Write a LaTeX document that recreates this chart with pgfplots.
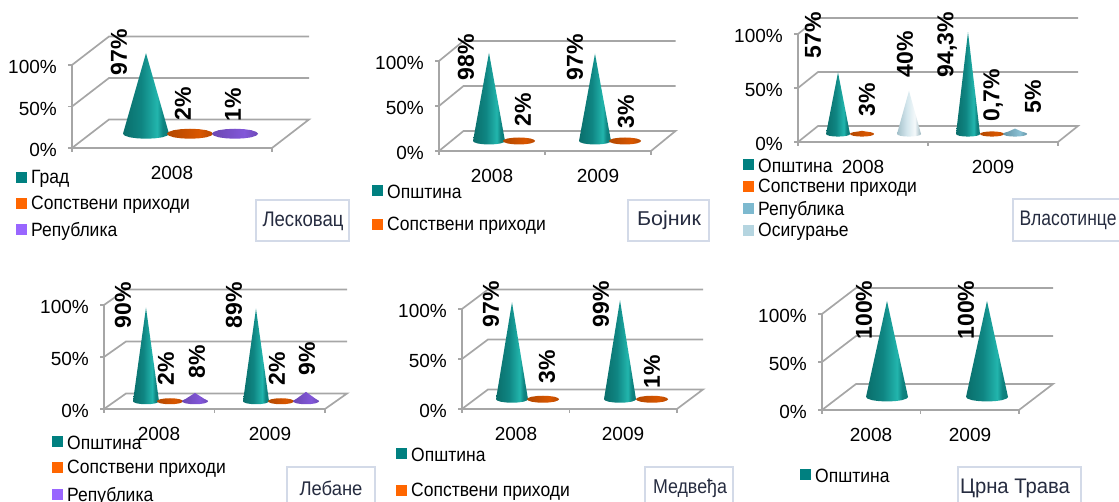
\documentclass[border=0pt]{standalone}
\usepackage{fontspec}
\setmainfont{Liberation Sans}
\usepackage{pgfplots}
\usepackage{pgfplotstable}
\pgfplotsset{compat=1.18}
\definecolor{gridc}{HTML}{A6A6A6}
\definecolor{legT}{HTML}{008080}
\definecolor{legO}{HTML}{FF6600}
\definecolor{legP}{HTML}{9966FF}
\definecolor{legB}{HTML}{7DB9CF}
\definecolor{legL}{HTML}{B5D5E0}
\definecolor{boxc}{HTML}{D3DAE8}
\definecolor{boxt}{HTML}{262C40}
\definecolor{tD}{HTML}{0A6E6B}
\definecolor{tM}{HTML}{0F8582}
\definecolor{tH}{HTML}{22B5AD}
\definecolor{tE}{HTML}{0C7A76}
\pgfdeclarehorizontalshading{coneT}{100bp}{color(0bp)=(tD); color(25bp)=(tD); color(45bp)=(tM); color(62bp)=(tH); color(68bp)=(tM); color(75bp)=(tE); color(100bp)=(tE)}
\pgfdeclarehorizontalshading{coneO}{100bp}{color(0bp)=(legO!75!black); color(25bp)=(legO!70!black); color(60bp)=(legO!85!black); color(75bp)=(legO!72!black); color(100bp)=(legO!72!black)}
\pgfdeclarehorizontalshading{coneP}{100bp}{color(0bp)=(legP!70!black); color(25bp)=(legP!70!black); color(60bp)=(legP!85!black); color(75bp)=(legP!72!black); color(100bp)=(legP!72!black)}
\pgfdeclarehorizontalshading{coneB}{100bp}{color(0bp)=(legB!75!black); color(25bp)=(legB!80!black); color(60bp)=(legB!90!white); color(75bp)=(legB!80!black); color(100bp)=(legB!80!black)}
\pgfdeclarehorizontalshading{coneL}{100bp}{color(0bp)=(legL); color(25bp)=(legL!90!black); color(45bp)=(legL!60!white); color(62bp)=(legL!15!white); color(75bp)=(legL!85!black); color(100bp)=(legL)}
\pgfplotstableread{
u e
-1 0
-0.92 0.38
-0.71 0.71
-0.38 0.92
0 1
0.38 0.92
0.71 0.71
0.92 0.38
1 0
0.92 -0.38
0.71 -0.71
0.38 -0.92
0 -1
-0.38 -0.92
-0.71 -0.71
-0.92 -0.38
}\ellT
\pgfplotstableread{
u t
-1 0
0 1
1 0
}\triT
\pgfplotstableread{
a d
0 0
0 1
1 1
}\wallT
\pgfplotstableread{
a d
0 0
0 1
1 1
1 0
}\floorT
% xL xR y100 y0 dx dy hw eh
\newcommand\setup[8]{%
  \def\xL{#1}\def\xR{#2}\def\yH{#3}\def\yZ{#4}\def\dX{#5}\def\dY{#6}\def\hw{#7}%
  \pgfmathsetmacro\W{#2-#1}\pgfmathsetmacro\H{#4-#3}%
  \pgfmathsetmacro\yB{502-#4}%
  \pgfmathsetmacro\dP{100*#6/(#4-#3)}%
  \pgfmathsetmacro\bs{\dP/2}%
  \pgfmathsetmacro\ye{100*#8/(#4-#3)}%
}
% x, value, shading
\newcommand\cone[3]{%
  \addplot[shade,shading=#3,draw=none] table[x expr=#1+\hw*\thisrow{u},y expr=\bs+\ye*\thisrow{e}]{\ellT};
  \addplot[shade,shading=#3,draw=none] table[x expr=#1+\hw*\thisrow{u},y expr=\bs+#2*\thisrow{t}]{\triT};
}
\newcommand\wall[1]{%
  \addplot[gridc,line width=1.7pt] table[x expr=\xL+(\xR-\xL)*\thisrow{a}+\dX*\thisrow{d},y expr=#1+\dP*\thisrow{d}]{\wallT};
}
% boundaries, centres, names, cones
\newcommand\chart[4]{%
\begin{axis}[
  at={(\xL pt,\yB pt)},anchor=south west,scale only axis,
  width=\W pt,height=\H pt,clip=false,
  xmin=\xL,xmax=\xR,ymin=0,ymax=100,
  axis x line*=bottom,axis y line*=left,
  axis line style={draw=gridc,line width=1.7pt,-},
  every tick/.style={gridc,line width=1.3pt},
  tick align=outside,
  major tick length=4pt,minor tick length=4pt,
  ytick={0,50,100},yticklabels={0\%,50\%,100\%},
  xtick={#2},xticklabels={#3},minor xtick={#1},
  major x tick style={draw=none},
  every x tick label/.append style={anchor=center,yshift=-21pt,inner sep=0pt},
  tick label style={font=\fontsize{19}{21}\selectfont},
  yticklabel style={inner xsep=0pt,xshift=-11pt,yshift=-2pt},
  no markers,
]
\addplot[gridc,line width=1.7pt] table[x expr=\xL+(\xR-\xL)*\thisrow{a}+\dX*\thisrow{d},y expr=\dP*\thisrow{d}]{\floorT};
\wall{50}\wall{100}
#4
\end{axis}}
\newcommand\vlab[3]{\node[rotate=90,inner sep=0pt,font=\fontsize{23}{25}\selectfont\bfseries] at (#2,{502-#3}) {#1};}
\newcommand\lgd[4]{%
  \fill[#3] (#1,{502-#2-5.5}) rectangle ({#1+11},{502-#2+5.5});
  \node[anchor=west,inner sep=0pt,yscale=1.1,font=\fontsize{17.5}{20}\selectfont] at ({#1+15},{502-#2-1.2}) {#4};}
% x1 y1 x2 y2 cx cy width text
\newcommand\tbox[8]{%
  \draw[boxc,line width=1.6pt,fill=white] (#1,{502-#2}) rectangle (#3,{502-#4});
  \node[inner sep=0pt,text=boxt] at (#5,{502-#6}) {\resizebox{#7pt}{14.5pt}{\fontsize{17.5}{20}\selectfont #8}};}
\begin{document}
\begin{tikzpicture}[x=1pt,y=1pt]
\path[use as bounding box] (0,0) rectangle (1119,502);
% Leskovac
\setup{72}{272}{65}{148}{37}{28.5}{23}{5}
\chart{72,272}{172}{2008}{%
  \cone{146}{97}{coneT}\cone{190}{2}{coneO}\cone{235}{1}{coneP}}
\vlab{97\%}{119}{52}\vlab{2\%}{183}{104}\vlab{1\%}{233}{105}
\lgd{16}{178}{legT}{Град}\lgd{16}{204}{legO}{Сопствени приходи}\lgd{16}{230}{legP}{Република}
\tbox{256}{200}{349}{241}{303}{221}{81}{Лесковац}
% Bojnik
\setup{439}{651}{61}{151}{24.5}{20}{16}{3.5}
\chart{439,545,651}{492,598}{2008,2009}{%
  \cone{489}{98}{coneT}\cone{519}{2}{coneO}\cone{595}{97}{coneT}\cone{625}{3}{coneO}}
\vlab{98\%}{466}{57}\vlab{2\%}{523}{110}\vlab{97\%}{575}{57}\vlab{3\%}{626}{112}
\lgd{372}{191}{legT}{Општина}\lgd{372}{225}{legO}{Сопствени приходи}
\tbox{628}{200}{709}{241}{669}{220}{64}{Бојник}
% Vlasotince
\setup{798}{1058}{34}{142}{20}{16}{12}{2.6}
\chart{798,928,1058}{863,993}{2008,2009}{%
  \cone{838}{57}{coneT}\cone{862}{3}{coneO}\cone{909}{40}{coneL}\cone{968}{94.3}{coneT}\cone{992}{0.7}{coneO}\cone{1015}{5}{coneB}}
\vlab{57\%}{813}{35.5}\vlab{3\%}{867}{100}\vlab{40\%}{905}{54}\vlab{94,3\%}{947}{44.5}\vlab{0,7\%}{993}{95}\vlab{5\%}{1033}{97}
\lgd{743}{165}{legT}{Општина}\lgd{743}{187}{legO}{Сопствени приходи}\lgd{743}{209}{legB}{Република}\lgd{743}{231}{legL}{Осигурање}
\tbox{1013}{199}{1125}{241}{1068}{220}{97}{Власотинце}
% Lebane
\setup{104}{325}{305}{409}{22}{15.5}{13}{3}
\chart{104,214.5,325}{159,270}{2008,2009}{%
  \cone{146}{90}{coneT}\cone{170}{2}{coneO}\cone{195}{8}{coneP}\cone{256}{89}{coneT}\cone{281}{2}{coneO}\cone{306}{9}{coneP}}
\vlab{90\%}{123}{305}\vlab{2\%}{166}{369}\vlab{8\%}{197}{362}\vlab{89\%}{234}{305}\vlab{2\%}{277}{369}\vlab{9\%}{307}{359}
\lgd{52}{442}{legT}{Општина}\lgd{52}{468}{legO}{Сопствени приходи}\lgd{52}{495}{legP}{Република}
\tbox{287}{467}{375}{510}{331}{488}{63}{Лебане}
% Medveda
\setup{462}{677}{309}{409}{26}{19.5}{16}{3.5}
\chart{462,569.5,677}{516,623}{2008,2009}{%
  \cone{512}{97}{coneT}\cone{543}{3}{coneO}\cone{620}{99}{coneT}\cone{652}{1}{coneO}}
\vlab{97\%}{491}{304.5}\vlab{3\%}{547}{367}\vlab{99\%}{601}{304.5}\vlab{1\%}{652}{372}
\lgd{396}{454}{legT}{Општина}\lgd{396}{491}{legO}{Сопствени приходи}
\tbox{645}{467}{733}{510}{690}{488}{74}{Медвеђа}
% Crna Trava
\setup{822}{1019}{314}{410}{34}{26}{21}{4.5}
\chart{822,920.5,1019}{871,970}{2008,2009}{%
  \cone{887}{100}{coneT}\cone{987}{100}{coneT}}
\vlab{100\%}{864}{310}\vlab{100\%}{966}{310}
\lgd{800}{475}{legT}{Општина}
\tbox{958}{467}{1081}{510}{1015}{488}{110}{Црна Трава}
\end{tikzpicture}
\end{document}
